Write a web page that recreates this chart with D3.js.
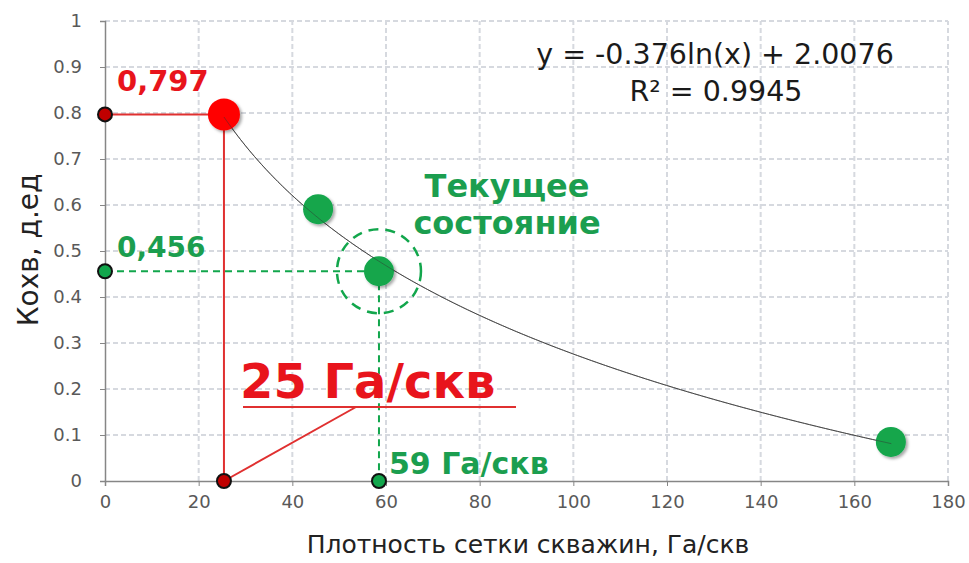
<!DOCTYPE html>
<html>
<head>
<meta charset="utf-8">
<script src="https://cdn.jsdelivr.net/npm/d3@7"></script>
<style>
  body { margin: 0; background: #fff; }
  svg { font-family: "DejaVu Sans", Verdana, sans-serif; }
</style>
</head>
<body>
<div id="viz"></div>
<script>
var width = 969,
    height = 563;

// data
var xTicks = [0, 20, 40, 60, 80, 100, 120, 140, 160, 180];
var yTicks = [0, 0.1, 0.2, 0.3, 0.4, 0.5, 0.6, 0.7, 0.8, 0.9, 1];
var pointX = [25.4, 45.5, 58.5, 167.8];
var pointY = [0.797, 0.591, 0.456, 0.085];
var trendA = -0.376, trendB = 2.0076;
var optimumX = 25.4, optimumY = 0.797;
var currentX = 58.5, currentY = 0.456;

var margin = {left: 105, right: 21, top: 21, bottom: 82};

var x = d3.scaleLinear().domain([0, 180]).range([margin.left, width - margin.right]);
var y = d3.scaleLinear().domain([0, 1]).range([height - margin.bottom, margin.top]);

var red = "#ff0000",
    redText = "#e8141c",
    darkRed = "#c00000",
    green = "#12a64c",
    greenText = "#1b9e4f";

var svg = d3.select("#viz").append("svg")
    .attr("width", width)
    .attr("height", height);

var defs = svg.append("defs");
var shadow = defs.append("filter").attr("id", "shadow")
    .attr("x", "-50%").attr("y", "-50%").attr("width", "200%").attr("height", "200%");
shadow.append("feDropShadow")
    .attr("dx", 2).attr("dy", 2).attr("stdDeviation", 1.8)
    .attr("flood-color", "#000").attr("flood-opacity", 0.35);

// grid
var grid = svg.append("g").attr("class", "grid");
grid.selectAll("line.h")
    .data(yTicks.filter(function(d) { return d > 0; }))
    .enter().append("line")
    .attr("x1", x(0)).attr("x2", x(180))
    .attr("y1", function(d) { return y(d); })
    .attr("y2", function(d) { return y(d); })
    .attr("stroke", "#d6d9df").attr("stroke-width", 2)
    .attr("stroke-dasharray", "5,3");
grid.selectAll("line.v")
    .data(xTicks.filter(function(d) { return d > 0; }))
    .enter().append("line")
    .attr("y1", y(0)).attr("y2", y(1))
    .attr("x1", function(d) { return x(d); })
    .attr("x2", function(d) { return x(d); })
    .attr("stroke", "#d6d9df").attr("stroke-width", 2)
    .attr("stroke-dasharray", "5,3");

// axes
var xAxis = svg.append("g")
    .attr("transform", "translate(0," + y(0) + ")")
    .call(d3.axisBottom(x).tickValues(xTicks).tickSize(5).tickPadding(9).tickFormat(d3.format("d")));
var yAxis = svg.append("g")
    .attr("transform", "translate(" + x(0) + ",0)")
    .call(d3.axisLeft(y).tickValues(yTicks).tickSize(5).tickPadding(18).tickFormat(function(d) { return d === 0 || d === 1 ? d : d3.format(".1f")(d); }));
[xAxis, yAxis].forEach(function(a) {
    a.attr("font-family", null).attr("font-size", null);
    a.select(".domain").attr("stroke", "#868686").attr("stroke-width", 1.5);
    a.selectAll(".tick line").attr("stroke", "#868686");
    a.selectAll(".tick text").attr("fill", "#595959").style("font-size", "18px");
});

// axis titles
svg.append("text")
    .attr("x", 528).attr("y", 553)
    .attr("text-anchor", "middle")
    .attr("font-size", 25).attr("fill", "#222")
    .text("Плотность сетки скважин, Га/скв");
svg.append("text")
    .attr("transform", "translate(38," + 250 + ") rotate(-90)")
    .attr("text-anchor", "middle")
    .attr("font-size", 28).attr("fill", "#222")
    .text("Кохв, д.ед");

// trend line
var trendX = d3.range(optimumX, 168.01, 0.5);
var trend = d3.line()
    .x(function(d) { return x(d); })
    .y(function(d) { return y(trendA * Math.log(d) + trendB); });
svg.append("path")
    .datum(trendX)
    .attr("d", trend)
    .attr("fill", "none")
    .attr("stroke", "#555")
    .attr("stroke-width", 1);

// red annotation lines
var ann = svg.append("g");
ann.append("line")
    .attr("x1", x(0)).attr("y1", y(optimumY))
    .attr("x2", x(optimumX)).attr("y2", y(optimumY))
    .attr("stroke", "#e03030").attr("stroke-width", 2);
ann.append("line")
    .attr("x1", x(optimumX)).attr("y1", y(optimumY))
    .attr("x2", x(optimumX)).attr("y2", y(0))
    .attr("stroke", "#e03030").attr("stroke-width", 2);

// green dashed lines
ann.append("line")
    .attr("x1", x(0)).attr("y1", y(currentY))
    .attr("x2", x(currentX)).attr("y2", y(currentY))
    .attr("stroke", green).attr("stroke-width", 2)
    .attr("stroke-dasharray", "7,5");
ann.append("line")
    .attr("x1", x(currentX)).attr("y1", y(currentY))
    .attr("x2", x(currentX)).attr("y2", y(0))
    .attr("stroke", green).attr("stroke-width", 2)
    .attr("stroke-dasharray", "7,5");
ann.append("circle")
    .attr("cx", x(currentX)).attr("cy", y(currentY))
    .attr("r", 42)
    .attr("fill", "none")
    .attr("stroke", green).attr("stroke-width", 2.5)
    .attr("stroke-dasharray", "10,7");

// main points
svg.append("g").selectAll("circle")
    .data(pointX)
    .enter().append("circle")
    .attr("cx", function(d) { return x(d); })
    .attr("cy", function(d, i) { return y(pointY[i]); })
    .attr("r", function(d, i) { return i === 0 ? 16 : 15; })
    .attr("fill", function(d, i) { return i === 0 ? red : green; })
    .attr("filter", "url(#shadow)");

// thin trend line is still visible across the markers
svg.append("path")
    .datum(trendX)
    .attr("d", trend)
    .attr("fill", "none")
    .attr("stroke", "#333")
    .attr("stroke-width", 0.8)
    .attr("opacity", 0.6);

// "25 Га/скв" label with underline and leader
ann = svg.append("g");
ann.append("line")
    .attr("x1", 243).attr("y1", 407).attr("x2", 516).attr("y2", 407)
    .attr("stroke", "#e03030").attr("stroke-width", 2);
ann.append("line")
    .attr("x1", 356).attr("y1", 407).attr("x2", x(optimumX)).attr("y2", y(0))
    .attr("stroke", "#e03030").attr("stroke-width", 2);
ann.append("text")
    .attr("x", 240).attr("y", 398)
    .attr("font-size", 48).attr("font-weight", "bold")
    .attr("fill", redText)
    .text("25 Га/скв");

// small axis markers
var marks = [
    {x: 0, y: optimumY, c: darkRed},
    {x: optimumX, y: 0, c: darkRed},
    {x: 0, y: currentY, c: green},
    {x: currentX, y: 0, c: green}
];
svg.append("g").selectAll("circle")
    .data(marks)
    .enter().append("circle")
    .attr("cx", function(d) { return x(d.x); })
    .attr("cy", function(d) { return y(d.y); })
    .attr("r", 7)
    .attr("fill", function(d) { return d.c; })
    .attr("stroke", "#111")
    .attr("stroke-width", 2);

// value labels
svg.append("text")
    .attr("x", 117).attr("y", 91)
    .attr("font-size", 29).attr("font-weight", "bold")
    .attr("fill", redText)
    .text("0,797");
svg.append("text")
    .attr("x", 117).attr("y", 257)
    .attr("font-size", 28).attr("font-weight", "bold")
    .attr("fill", greenText)
    .text("0,456");
svg.append("text")
    .attr("x", 389).attr("y", 474)
    .attr("font-size", 30).attr("font-weight", "bold")
    .attr("fill", greenText)
    .text("59 Га/скв");

var cur = svg.append("text")
    .attr("text-anchor", "middle")
    .attr("font-size", 32).attr("font-weight", "bold")
    .attr("fill", greenText);
cur.append("tspan").attr("x", 507).attr("y", 197).text("Текущее");
cur.append("tspan").attr("x", 507).attr("y", 234).text("состояние");

// equation
var eq = svg.append("text")
    .attr("text-anchor", "middle")
    .attr("font-size", 28.5)
    .attr("fill", "#1a1a1a");
eq.append("tspan").attr("x", 715).attr("y", 64).text("y = -0.376ln(x) + 2.0076");
eq.append("tspan").attr("x", 716).attr("y", 101).text("R² = 0.9945");
</script>
</body>
</html>
